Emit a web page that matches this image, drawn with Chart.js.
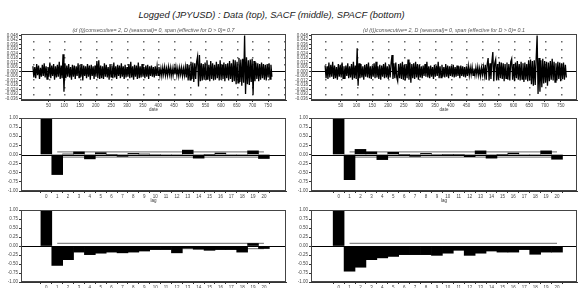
<!DOCTYPE html>
<html><head><meta charset="utf-8">
<script src="https://cdn.jsdelivr.net/npm/chart.js@4/dist/chart.umd.min.js"></script>
<style>
html,body{margin:0;padding:0;background:#fff;width:585px;height:288px;overflow:hidden}
#t{position:absolute;left:-21px;top:9px;width:585px;text-align:center;font:italic 9.4px "Liberation Sans",Arial,sans-serif;color:#222;white-space:nowrap}
canvas{position:absolute}
</style></head><body>
<div id="t">Logged (JPYUSD) : Data (top), SACF (middle), SPACF (bottom)</div>
<canvas id="c1" width="290" height="88" style="left:0;top:24px"></canvas>
<canvas id="c2" width="295" height="88" style="left:290px;top:24px"></canvas>
<canvas id="c3" width="290" height="91" style="left:0;top:112px"></canvas>
<canvas id="c4" width="295" height="91" style="left:290px;top:112px"></canvas>
<canvas id="c5" width="290" height="85" style="left:0;top:203px"></canvas>
<canvas id="c6" width="295" height="85" style="left:290px;top:203px"></canvas>
<script>
// ---- data ----
const subtitleLeft = "(d (t))consecutive= 2, D (seasonal)= 0, span (effective for D > 0)= 0.7";
const subtitleRight = "(d (t))consecutive= 2, D (seasonal)= 0, span (effective for D > 0)= 0.1";
const obsStep = 3; // every third observation is listed
const dataLeft = [
.007,-.008,.006,-.009,.010,-.005,.008,-.010,.005,-.007,.009,-.006,.011,-.008,.007,-.010,.006,-.007,.012,-.009,.008,-.006,.010,-.011,.007,-.008,.009,-.007,.013,-.010,
.008,-.009,.023,-.027,.011,
-.009,.008,-.007,.010,-.008,.006,-.011,.009,-.007,.008,-.010,.007,-.006,.011,-.008,.009,-.007,.010,-.012,.008,-.006,.007,-.009,.010,-.007,.008,-.011,.009,-.006,.007,-.010,.008,
-.007,.014,-.009,.015,-.010,
.008,-.009,.007,-.010,.011,-.007,.009,-.008,.006,-.011,.010,-.007,.008,-.009,.012,-.008,.007,-.010,.009,-.006,.008,-.009,.011,-.007,.007,-.010,.009,-.008,.006,-.007,.010,-.009,.013,-.008,.007,-.011,.009,-.007,.008,-.010,.012,-.009,.007,-.008,.010,-.007,.006,-.009,.008,-.007,.009,-.010,.007,-.006,.008,-.007,.006,-.008,.007,
-.006,.007,-.005,.006,
-.005,.004,-.006,.005,-.004,.006,-.005,.004,-.005,.006,-.004,.005,-.006,.004,-.005,.005,-.004,.006,-.005,.004,-.006,.005,-.004,.005,-.006,.004,-.005,.006,
-.008,.010,-.012,.009,-.011,.013,-.010,.012,-.014,.011,-.010,.013,.020,-.020,.022,-.013,.011,-.012,.010,-.011,
.012,-.010,.015,-.011,.009,-.013,.014,-.010,.011,-.012,.009,-.011,.013,-.009,.010,-.012,.015,-.011,.009,-.010,.012,-.013,.010,-.009,.011,-.012,.014,-.010,.011,
-.014,.016,-.013,.015,-.017,.013,-.015,.018,-.014,.016,-.019,.017,-.015,.048,-.030,.019,-.017,.015,-.018,.016,-.014,.017,-.031,.014,-.013,
.012,-.010,.011,-.013,.010,-.011,.012,-.009,.010,-.011,.009,-.012,.010,-.008,.011,-.010,.009,-.007
];
const dataRight = [
.008,-.009,.007,-.010,.012,-.008,.009,-.007,.013,-.010,.008,-.009,.006,-.011,.010,-.007,.009,-.008,.012,-.009,.007,-.010,.008,-.006,.011,-.009,.007,-.008,.010,-.011,.013,-.009,.008,
-.010,.031,-.019,.011,
-.009,.010,-.008,.007,-.011,.009,-.007,.010,-.008,.012,-.009,.007,-.010,.008,-.007,.011,-.009,.013,-.008,.007,-.010,.009,-.011,.008,-.007,.010,-.009,.012,-.008,.007,-.010,.009,-.008,.011,
.022,-.010,.011,-.009,.012,-.008,-.013,.010,-.009,
.011,-.010,.013,-.011,.009,-.012,.010,-.009,.016,-.011,.012,-.015,.010,-.009,.011,-.010,.013,-.008,.010,-.011,.009,
-.008,.007,-.009,.008,-.006,.010,-.007,.013,-.008,.007,-.009,.008,-.007,.006,-.010,.009,-.007,.008,-.006,.013,-.009,.007,-.008,.009,-.007,.006,-.008,.010,-.007,.008,-.009,.007,-.006,.008,-.007,.009,-.008,.006,-.007,.008,-.006,.007,-.009,.008,-.006,.007,-.007,.006,-.008,.007,-.006,.007,-.005,
.005,-.004,.006,-.005,.004,-.005,.005,-.004,.006,-.005,.004,-.006,.005,-.004,.006,-.005,
.009,-.011,.010,.018,-.012,.011,-.010,.013,.026,-.013,.011,.016,-.012,.010,-.011,.013,-.009,.012,-.010,.011,-.013,.010,-.009,.012,-.011,.010,
-.012,.013,.017,-.011,.010,-.013,.012,-.009,.014,-.011,.010,-.012,.013,-.010,.011,-.014,.012,-.011,.010,-.013,.015,-.012,
.016,-.017,.014,-.019,.015,-.018,.017,.048,-.030,.018,-.027,.015,-.021,.017,-.016,.014,
-.015,.013,-.019,.012,-.013,.014,-.011,.017,-.012,.013,-.014,.011,-.012,.013,-.010,.012,-.013,.011,-.010,.012,-.011,.009,-.008
];
const lags = [0,1,2,3,4,5,6,7,8,9,10,11,12,13,14,15,16,17,18,19,20];
const sacfLeft   = [1.00,-0.55,0.01,0.07,-0.12,0.05,0.00,-0.05,0.03,0.01,-0.01,-0.02,-0.03,0.12,-0.10,0.00,0.04,-0.03,-0.02,0.10,-0.11];
const sacfRight  = [1.00,-0.69,0.14,0.07,-0.14,0.06,0.00,-0.05,0.03,-0.01,0.00,0.00,-0.06,0.10,-0.10,0.00,0.04,-0.03,-0.03,0.10,-0.13];
const spacfLeft  = [1.00,-0.54,-0.38,-0.17,-0.24,-0.20,-0.17,-0.19,-0.17,-0.14,-0.10,-0.10,-0.19,-0.06,-0.09,-0.12,-0.10,-0.10,-0.17,0.07,-0.07];
const spacfRight = [1.00,-0.70,-0.59,-0.38,-0.33,-0.29,-0.24,-0.24,-0.24,-0.26,-0.20,-0.12,-0.26,-0.20,-0.14,-0.17,-0.17,-0.10,-0.23,-0.17,-0.17];
const confBand = 0.072;
const dataXTicks = [50,100,150,200,250,300,350,400,450,500,550,600,650,700,750];

// ---- drawing ----
const FONT = '"Liberation Sans", Arial, sans-serif';
const decor = {
  id: 'decor',
  beforeDatasetsDraw(chart, args, o) {
    const {ctx, chartArea: a, scales: {x, y}} = chart;
    if (o.dots) {
      ctx.save(); ctx.fillStyle = '#666';
      for (let v = 0; v <= 800; v += 50) {
        const px = Math.round(x.getPixelForValue(v));
        if (px < a.left + 2 || px > a.right - 2) continue;
        for (let k = -3; k <= 5; k++) {
          if (k === 0) continue;
          const py = Math.round(y.getPixelForValue(k / 100));
          if (py < a.top + 2 || py > a.bottom - 2) continue;
          ctx.fillRect(px, py, 1.5, 1.5);
        }
      }
      ctx.restore();
    }
  },
  afterDatasetsDraw(chart, args, o) {
    const {ctx, chartArea: a, scales: {y}} = chart;
    ctx.save();
    ctx.strokeStyle = '#000'; ctx.lineWidth = 1;
    const y0 = Math.round(y.getPixelForValue(0)) + 0.5;
    ctx.beginPath(); ctx.moveTo(a.left, y0); ctx.lineTo(a.right, y0); ctx.stroke();
    ctx.strokeStyle = '#444';
    ctx.strokeRect(Math.round(a.left) + 0.5, Math.round(a.top) + 0.5, Math.round(a.width) - 1, Math.round(a.height) - 1);
    if (o.sub) {
      ctx.fillStyle = '#555'; ctx.font = 'italic 5.3px ' + FONT;
      ctx.textAlign = 'center'; ctx.textBaseline = 'bottom';
      ctx.fillText(o.sub, (a.left + a.right) / 2, a.top - 1);
    }
    ctx.restore();
  }
};
Chart.register(decor);

const tickFont = {size: 4.5, family: FONT};
function axisCommon(extra) {
  return Object.assign({
    type: 'linear',
    grid: {drawOnChartArea: false, drawTicks: true, tickLength: 2, color: '#333'},
    border: {display: true, color: '#333'},
    ticks: {font: tickFont, color: '#444', padding: 1, autoSkip: false, maxRotation: 0, includeBounds: false},
  }, extra);
}

function dataChart(id, vals, xmin, xmax, sub, padRight) {
  const pts = vals.map((v, i) => ({x: i * obsStep, y: v}));
  new Chart(document.getElementById(id), {
    type: 'line',
    data: {datasets: [{data: pts, borderColor: '#000', borderWidth: 1.3, pointRadius: 0, tension: 0}]},
    options: {
      responsive: false, animation: false, devicePixelRatio: 1,
      layout: {padding: {top: 10, right: padRight, left: 0, bottom: 0}},
      plugins: {legend: {display: false}, tooltip: {enabled: false}, decor: {dots: true, sub: sub}},
      scales: {
        x: axisCommon({min: xmin, max: xmax,
          ticks: Object.assign({}, axisCommon().ticks, {stepSize: 50}),
          afterBuildTicks: s => { s.ticks = dataXTicks.map(v => ({value: v})); },
          afterFit: s => { s.height = 12; },
          title: {display: true, text: 'date', font: tickFont, color: '#333', padding: 0}}),
        y: axisCommon({min: -0.038, max: 0.05,
          ticks: Object.assign({}, axisCommon().ticks, {stepSize: 0.006, callback: v => Number(v).toFixed(3)}),
          afterFit: s => { s.width = 21; }})
      }
    }
  });
}

function acfChart(id, vals, xmin, xmax, padRight, padTop, xh, showTitle) {
  const bars = lags.map((l, i) => ({x: l, y: vals[i]}));
  const up = lags.slice(1).map(l => ({x: l, y: confBand}));
  const lo = lags.slice(1).map(l => ({x: l, y: -confBand}));
  new Chart(document.getElementById(id), {
    type: 'bar',
    data: {datasets: [
      {type: 'line', data: up, borderColor: '#888', borderWidth: 1.2, pointRadius: 0, order: 2},
      {type: 'line', data: lo, borderColor: '#888', borderWidth: 1.2, pointRadius: 0, order: 2},
      {data: bars, backgroundColor: '#000', borderColor: '#000', borderWidth: 0, barPercentage: 1, categoryPercentage: 1, order: 1}
    ]},
    options: {
      responsive: false, animation: false, devicePixelRatio: 1,
      layout: {padding: {top: padTop, right: padRight, left: 0, bottom: 0}},
      plugins: {legend: {display: false}, tooltip: {enabled: false}, decor: {dots: false}},
      scales: {
        x: axisCommon({min: xmin, max: xmax,
          afterBuildTicks: s => { s.ticks = lags.map(v => ({value: v})); },
          afterFit: s => { s.height = xh; },
          title: {display: showTitle, text: 'lag', font: tickFont, color: '#333', padding: 0}}),
        y: axisCommon({min: -1, max: 1,
          ticks: Object.assign({}, axisCommon().ticks, {stepSize: 0.25, callback: v => Number(v).toFixed(2)}),
          afterFit: s => { s.width = 21; }})
      }
    }
  });
}

dataChart('c1', dataLeft, -38, 807, subtitleLeft, 4);
dataChart('c2', dataRight, -45, 802, subtitleRight, 8);
acfChart('c3', sacfLeft, -1.75, 21.45, 4, 6, 12, true);
acfChart('c4', sacfRight, -1.95, 21.25, 8, 6, 12, true);
acfChart('c5', spacfLeft, -1.75, 21.45, 4, 7, 6, false);
acfChart('c6', spacfRight, -1.95, 21.25, 8, 7, 6, false);
</script>
</body></html>
